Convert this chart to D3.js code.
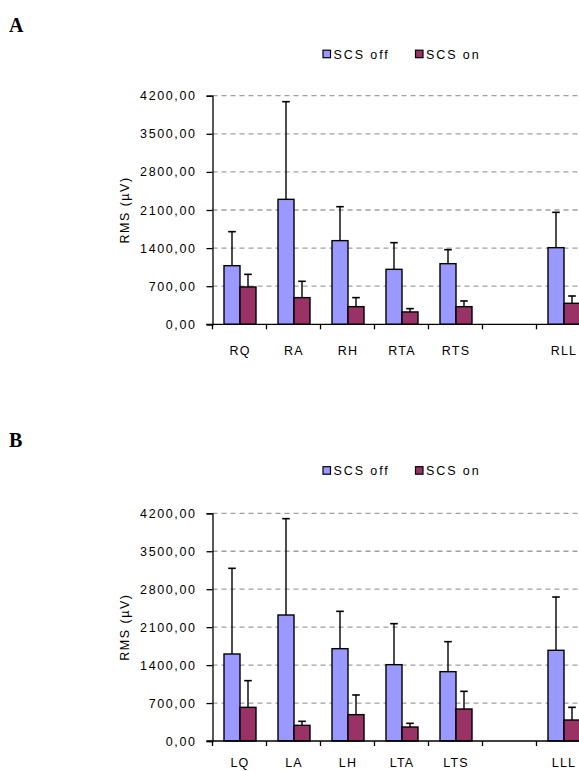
<!DOCTYPE html>
<html><head><meta charset="utf-8">
<script src="https://cdn.jsdelivr.net/npm/d3@7"></script>
<style>
html,body{margin:0;padding:0;background:#fff;overflow:hidden}
svg{display:block}
</style></head>
<body>
<script>
const yTicks = [0, 700, 1400, 2100, 2800, 3500, 4200];
const seriesNames = ["SCS off", "SCS on"];
const catsA = ["RQ", "RA", "RH", "RTA", "RTS", "", "RLL"];
const offA = [1077, 2296, 1537, 1010, 1114, null, 1408];
const offErrA = [625, 1794, 624, 490, 257, null, 649];
const onA = [686, 490, 324, 227, 324, null, 386];
const onErrA = [232, 300, 166, 61, 105, null, 134];
const catsB = ["LQ", "LA", "LH", "LTA", "LTS", "", "LLL"];
const offB = [1605, 2324, 1703, 1408, 1279, null, 1673];
const offErrB = [1580, 1777, 689, 756, 553, null, 983];
const onB = [621, 289, 486, 258, 590, null, 387];
const onErrB = [492, 74, 363, 68, 326, null, 234];

const W = 579, H = 771;
const colors = ["#9999FF", "#993366"];
const FONT = "Liberation Sans, Arial, sans-serif";
const svg = d3.select("body").append("svg").attr("width", W).attr("height", H);
const fmt = v => d3.format(".2f")(v).replace(".", ",");

function panel(letter, letterY, legendY, top, bottom, cats, off, offErr, on, onErr, labelY) {
  svg.append("text").attr("x", 9).attr("y", letterY)
    .attr("font-family", "Liberation Serif, Times New Roman, serif").attr("font-weight", "bold")
    .attr("font-size", 20).text(letter);

  // legend
  const lx = [323, 415.5];
  seriesNames.forEach((n, i) => {
    svg.append("rect").attr("x", lx[i]).attr("y", legendY - 3.8).attr("width", 7.5).attr("height", 7.5)
      .attr("fill", colors[i]).attr("stroke", "#000").attr("stroke-width", 1.2);
    svg.append("text").attr("x", lx[i] + 10.5).attr("y", legendY + 4.5)
      .attr("font-family", FONT).attr("font-size", 12.5)
      .attr("letter-spacing", 1.9).text(n);
  });

  const x0 = 212.5, step = 54;
  const x = d3.scaleBand().domain(d3.range(cats.length)).range([x0, x0 + step * cats.length]);
  const y = d3.scaleLinear().domain([0, 4200]).range([bottom, top]);

  // grid
  svg.append("g").selectAll("line").data(yTicks.filter(t => t > 0)).join("line")
    .attr("x1", x0).attr("x2", W).attr("y1", d => y(d)).attr("y2", d => y(d))
    .attr("stroke", "#a0a0a0").attr("stroke-width", 1.3).attr("stroke-dasharray", "5,4");

  // y axis
  const ya = svg.append("g").attr("transform", `translate(${x0},0)`)
    .call(d3.axisLeft(y).tickValues(yTicks).tickFormat(fmt).tickSize(6).tickPadding(10));
  ya.select(".domain").attr("stroke", "#000").attr("stroke-width", 1.3);
  ya.selectAll(".tick line").attr("stroke", "#000").attr("stroke-width", 1.3);
  ya.selectAll("text").attr("font-family", FONT).attr("font-size", 12.5)
    .attr("letter-spacing", 1.6).attr("fill", "#000");

  svg.append("text").attr("transform", `translate(129,${(top + bottom) / 2}) rotate(-90)`)
    .attr("text-anchor", "middle").attr("font-family", FONT)
    .attr("font-size", 12.5).attr("letter-spacing", 1.5).text("RMS (µV)");

  // bars
  const bw = 16;
  const data = cats.map((c, i) => ({ i, vals: [off[i], on[i]], errs: [offErr[i], onErr[i]] }));
  data.forEach(d => {
    d.vals.forEach((v, k) => {
      if (v == null) return;
      const bx = x(d.i) + (x.bandwidth() - 2 * bw) / 2 + 0.5 + k * bw;
      const cx = bx + bw / 2;
      const et = y(v + d.errs[k]);
      svg.append("line").attr("x1", cx).attr("x2", cx).attr("y1", y(v)).attr("y2", et)
        .attr("stroke", "#000").attr("stroke-width", 1.4);
      svg.append("line").attr("x1", cx - 3.8).attr("x2", cx + 3.8).attr("y1", et).attr("y2", et)
        .attr("stroke", "#000").attr("stroke-width", 1.6);
      svg.append("rect").attr("x", bx).attr("y", y(v)).attr("width", bw).attr("height", y(0) - y(v))
        .attr("fill", colors[k]).attr("stroke", "#000").attr("stroke-width", 1.4);
    });
  });

  // x axis
  svg.append("line").attr("x1", x0 - 6).attr("x2", W).attr("y1", y(0)).attr("y2", y(0))
    .attr("stroke", "#000").attr("stroke-width", 1.3);
  svg.append("g").selectAll("line").data(d3.range(cats.length + 1)).join("line")
    .attr("x1", d => x0 + d * x.step()).attr("x2", d => x0 + d * x.step())
    .attr("y1", y(0)).attr("y2", y(0) + 5).attr("stroke", "#000").attr("stroke-width", 1.3);
  svg.append("g").selectAll("text").data(cats).join("text")
    .attr("x", (d, i) => x(i) + x.bandwidth() / 2 + 0.5).attr("y", labelY)
    .attr("text-anchor", "middle").attr("font-family", FONT).attr("letter-spacing", 1.2)
    .attr("font-size", 12.5).text(d => d);
}

panel("A", 32, 54, 95.7, 324.3, catsA, offA, offErrA, onA, onErrA, 355);
panel("B", 447, 470.5, 513.3, 741, catsB, offB, offErrB, onB, onErrB, 767);
</script>
</body></html>
